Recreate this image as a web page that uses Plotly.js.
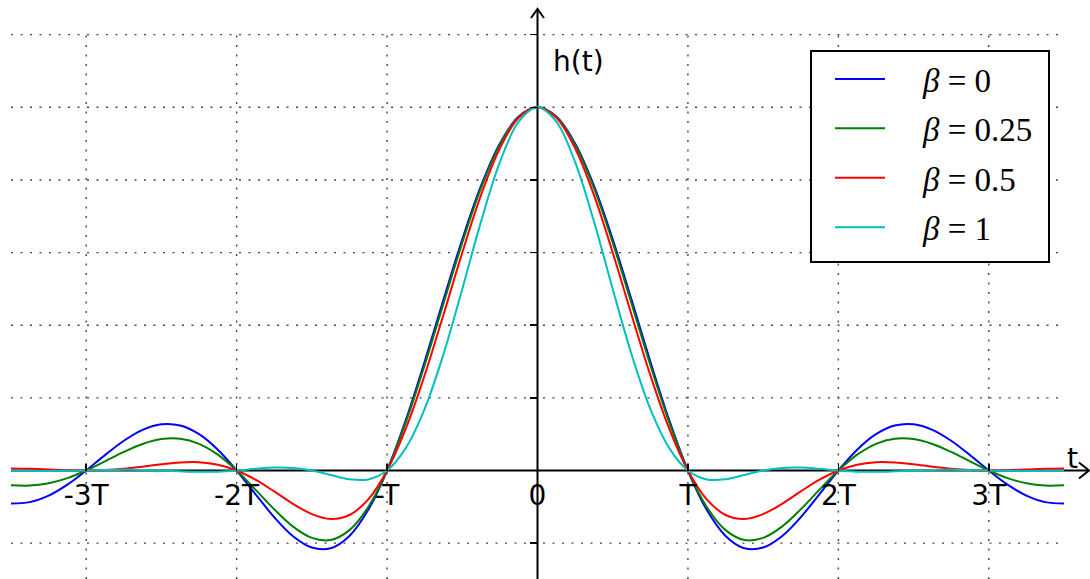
<!DOCTYPE html>
<html><head><meta charset="utf-8">
<script src="https://cdn.plot.ly/plotly-3.0.1.min.js"></script>
<style>html,body{margin:0;padding:0;background:#fff}#chart{width:1090px;height:579px}</style>
</head><body><div id="chart"></div>
<script>
// Time axis, in units of T
const t = [-3.5,-3.375,-3.25,-3.125,-3,-2.875,-2.75,-2.625,-2.5,-2.375,-2.25,-2.125,-2,-1.875,-1.75,-1.625,-1.5,-1.375,-1.25,-1.125,-1,-0.875,-0.75,-0.625,-0.5,-0.375,-0.25,-0.125,0,0.125,0.25,0.375,0.5,0.625,0.75,0.875,1,1.125,1.25,1.375,1.5,1.625,1.75,1.875,2,2.125,2.25,2.375,2.5,2.625,2.75,2.875,3,3.125,3.25,3.375,3.5];
// h(t)
const hBeta0 = [-0.091,-0.0871,-0.0693,-0.039,0,0.0424,0.0819,0.112,0.1273,0.1238,0.1,0.0573,0,-0.065,-0.1286,-0.181,-0.2122,-0.2139,-0.1801,-0.1083,0,0.1392,0.3001,0.4705,0.6366,0.7842,0.9003,0.9745,1,0.9745,0.9003,0.7842,0.6366,0.4705,0.3001,0.1392,0,-0.1083,-0.1801,-0.2139,-0.2122,-0.181,-0.1286,-0.065,0,0.0573,0.1,0.1238,0.1273,0.112,0.0819,0.0424,0,-0.039,-0.0693,-0.0871,-0.091];
const hBeta025 = [-0.0407,-0.0416,-0.0351,-0.0209,0,0.0252,0.0511,0.0731,0.0866,0.0876,0.0735,0.0436,0,-0.0526,-0.1071,-0.1546,-0.1856,-0.1912,-0.1642,-0.1005,0,0.1331,0.2904,0.4599,0.6274,0.7778,0.897,0.9736,1,0.9736,0.897,0.7778,0.6274,0.4599,0.2904,0.1331,0,-0.1005,-0.1642,-0.1912,-0.1856,-0.1546,-0.1071,-0.0526,0,0.0436,0.0735,0.0876,0.0866,0.0731,0.0511,0.0252,0,-0.0209,-0.0351,-0.0416,-0.0407];
const hBeta05 = [0.0057,0.0047,0.0028,0.0009,0,0.0011,0.0048,0.0106,0.0172,0.0222,0.0228,0.016,0,-0.0253,-0.0576,-0.0917,-0.12,-0.1334,-0.1225,-0.0795,0,0.1159,0.2625,0.429,0.6002,0.7588,0.8872,0.971,1,0.971,0.8872,0.7588,0.6002,0.429,0.2625,0.1159,0,-0.0795,-0.1225,-0.1334,-0.12,-0.0917,-0.0576,-0.0253,0,0.016,0.0228,0.0222,0.0172,0.0106,0.0048,0.0011,0,0.0009,0.0028,0.0047,0.0057];
const hBeta1 = [0,-0.0008,-0.0012,-0.001,0,0.0012,0.002,0.0016,0,-0.0022,-0.0037,-0.0031,0,0.0046,0.0081,0.0072,0,-0.0125,-0.0243,-0.0246,0,0.0624,0.1698,0.3201,0.5,0.686,0.8488,0.9603,1,0.9603,0.8488,0.686,0.5,0.3201,0.1698,0.0624,0,-0.0246,-0.0243,-0.0125,0,0.0072,0.0081,0.0046,0,-0.0031,-0.0037,-0.0022,0,0.0016,0.002,0.0012,0,-0.001,-0.0012,-0.0008,0];

const seriesNames = ['<i>β</i> = 0', '<i>β</i> = 0.25', '<i>β</i> = 0.5', '<i>β</i> = 1'];
const seriesColors = ['#0000ff', '#008000', '#ff0000', '#00bfbf'];
const tickVals = [-3, -2, -1, 0, 1, 2, 3];
const tickText = ['-3T', '-2T', '-T', '0', 'T', '2T', '3T'];
const yTickVals = [-0.2, 0.2, 0.4, 0.6, 0.8, 1.0, 1.2];
const gridX = [-3, -2, -1, 1, 2, 3];
const gridY = [-0.2, 0.2, 0.4, 0.6, 0.8, 1.0, 1.2];

const W = 1090, H = 579;
const X0 = 537.5, SX = 150.43, Y0 = 470.5, SY = 363.2;
const xRange = [(0 - X0) / SX, (W - X0) / SX];
const yRange = [(Y0 - H) / SY, Y0 / SY];
const px = x => x / W;
const py = y => 1 - y / H;

const series = [hBeta0, hBeta025, hBeta05, hBeta1];
const PAD = '\u00a0\u00a0\u00a0\u00a0';
const traces = series.map((s, i) => ({
  x: t, y: s, type: 'scatter', mode: 'lines',
  name: PAD + seriesNames[i], legendgroup: 'g' + i,
  line: {color: seriesColors[i], width: 2, shape: 'spline', smoothing: 1},
  hoverinfo: 'skip'
}));

const gridStyle = {color: '#444', width: 1.4, dash: '2px,7.5px'};
const shapes = [];
gridY.forEach(g => shapes.push({type: 'line', xref: 'x', yref: 'y', x0: -3.5, x1: 3.5, y0: g, y1: g, line: gridStyle, layer: 'below'}));
gridX.forEach(g => shapes.push({type: 'line', xref: 'x', yref: 'y', x0: g, x1: g, y0: yRange[0], y1: 1.2, line: gridStyle, layer: 'below'}));
// axes through the origin
shapes.push({type: 'line', xref: 'paper', yref: 'y', x0: px(11), x1: px(1089), y0: 0, y1: 0, line: {color: '#000', width: 2}, layer: 'below'});
shapes.push({type: 'line', xref: 'x', yref: 'paper', x0: 0, x1: 0, y0: 0, y1: py(10), line: {color: '#000', width: 2}, layer: 'below'});
// arrow heads
shapes.push({type: 'path', xref: 'paper', yref: 'paper',
  path: `M${px(1079)},${py(Y0 - 8)} L${px(1089)},${py(Y0)} L${px(1079)},${py(Y0 + 8)}`,
  line: {color: '#000', width: 2}, layer: 'below'});
shapes.push({type: 'path', xref: 'paper', yref: 'paper',
  path: `M${px(X0 - 6.5)},${py(18)} L${px(X0)},${py(9)} L${px(X0 + 6.5)},${py(18)}`,
  line: {color: '#000', width: 2}, layer: 'below'});
// legend frame
shapes.push({type: 'rect', xref: 'paper', yref: 'paper', x0: px(811), x1: px(1049), y0: py(51), y1: py(262),
  line: {color: '#000', width: 2}, fillcolor: '#ffffff', layer: 'above'});

const annotations = [
  {xref: 'paper', yref: 'paper', x: px(579), y: py(61), text: 'h(t)', showarrow: false,
   xanchor: 'center', yanchor: 'middle', font: {family: 'DejaVu Sans', size: 28, color: '#000'}},
  {xref: 'paper', yref: 'paper', x: px(1072), y: py(458), text: 't', showarrow: false,
   xanchor: 'center', yanchor: 'middle', font: {family: 'DejaVu Sans', size: 28, color: '#000'}}
];

const layout = {
  width: W, height: H,
  margin: {l: 0, r: 0, t: 0, b: 0, pad: 0},
  paper_bgcolor: '#fff', plot_bgcolor: '#fff',
  showlegend: true,
  legend: {x: px(830), y: py(51), xanchor: 'left', yanchor: 'top',
    bgcolor: 'rgba(0,0,0,0)', borderwidth: 0, itemwidth: 50, tracegroupgap: 3.5,
    font: {family: 'Liberation Serif', size: 33, color: '#000'}},
  xaxis: {range: xRange, anchor: 'free', position: (H - Y0) / H,
    showgrid: false, zeroline: false, showline: false,
    tickmode: 'array', tickvals: tickVals, ticktext: tickText,
    ticks: 'inside', ticklen: 7, tickwidth: 1.5, tickcolor: '#000',
    ticklabelstandoff: 5,
    tickfont: {family: 'DejaVu Sans', size: 28, color: '#000'}},
  yaxis: {range: yRange, anchor: 'free', position: X0 / W,
    showgrid: false, zeroline: false, showline: false,
    tickmode: 'array', tickvals: yTickVals, showticklabels: false,
    ticks: 'outside', ticklen: 8, tickwidth: 1.5, tickcolor: '#000'},
  shapes: shapes,
  annotations: annotations
};

Plotly.newPlot('chart', traces, layout, {staticPlot: true, displayModeBar: false});
</script>
</body></html>
